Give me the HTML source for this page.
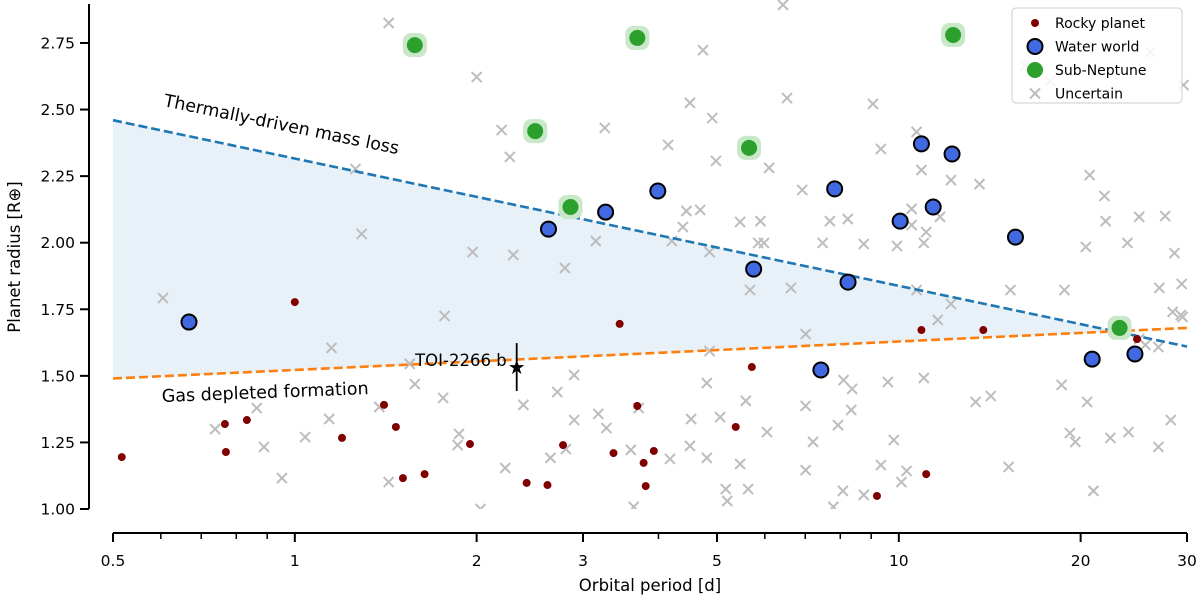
<!DOCTYPE html>
<html><head><meta charset="utf-8"><style>
body{margin:0;background:#fff;}
svg{display:block;font-family:"DejaVu Sans","Liberation Sans",sans-serif;}
</style></head><body>
<svg id="chart" width="1200" height="600" viewBox="0 0 1200 600">
<defs><clipPath id="clip"><rect x="89" y="0" width="1105" height="509"/></clipPath></defs>
<g id="plot" clip-path="url(#clip)"></g>
<g id="axes"></g>
<g id="legend"></g>
</svg>
<script>
const xTicks=[0.5,1,2,3,5,10,20,30];
const xMinor=[0.6,0.7,0.8,0.9,4,6,7,8,9];
const yTicks=[1.00,1.25,1.50,1.75,2.00,2.25,2.50,2.75];
const upperLine=[[0.5,2.46],[30,1.61]];
const lowerLine=[[0.5,1.49],[30,1.68]];
const rockyP=[0.517,0.769,0.766,0.833,1.0,1.197,1.405,1.47,1.51,1.64,1.95,2.42,2.62,2.78,3.37,3.45,3.69,3.78,3.81,3.93,5.71,5.37,9.2,11.1,10.9,13.8,24.8];
const rockyR=[1.195,1.214,1.319,1.334,1.777,1.267,1.391,1.308,1.116,1.131,1.244,1.098,1.09,1.24,1.21,1.695,1.387,1.173,1.086,1.218,1.533,1.308,1.049,1.131,1.672,1.672,1.638];
const waterP=[0.668,2.63,3.27,3.99,5.75,7.83,7.43,8.24,10.05,10.9,11.4,12.25,15.6,20.9,24.6];
const waterR=[1.702,2.051,2.115,2.194,1.901,2.202,1.522,1.852,2.081,2.371,2.134,2.333,2.021,1.563,1.582];
const subP=[1.58,2.5,3.69,5.65,2.86,12.3,23.2];
const subR=[2.742,2.419,2.769,2.356,2.134,2.78,1.68];
const uncP=[1.43,2.0,4.74,6.43,16.2,17.8,29.6,26.1,2.2,2.27,3.26,4.15,4.51,4.91,4.98,6.1,6.53,6.92,7.69,9.06,9.34,10.7,10.9,11.1,12.2,13.6,20.7,21.9,25.0,27.6,22.0,23.9,28.6,1.26,1.29,1.97,2.3,2.8,3.15,4.21,4.39,4.45,4.69,4.86,5.46,5.85,5.9,5.98,5.67,6.63,7.01,7.48,8.23,8.75,9.93,10.5,10.7,11.0,11.7,12.2,11.6,10.5,15.3,18.8,20.4,27.0,29.4,29.5,28.4,0.605,1.15,1.77,1.55,1.58,1.38,0.738,0.865,0.889,0.952,1.04,1.14,1.43,1.87,1.76,1.86,2.23,2.39,2.65,2.81,2.9,2.72,2.9,3.18,3.28,3.71,3.6,4.18,4.51,4.53,4.81,4.86,4.81,5.06,5.17,5.2,5.58,5.46,5.63,6.05,7.01,7.01,7.21,7.93,8.08,8.37,8.34,8.75,9.34,9.81,10.1,10.3,9.59,8.1,11.0,13.4,14.2,15.2,19.6,21.0,22.4,24.0,26.9,28.2,25.0,29.3,20.5,18.6,19.2,3.64,2.03,7.79,26.9,25.6];
const uncR=[2.825,2.622,2.723,2.893,2.664,2.607,2.592,2.716,2.423,2.322,2.431,2.367,2.525,2.468,2.307,2.281,2.543,2.198,2.081,2.521,2.352,2.416,2.273,2.04,2.235,2.22,2.254,2.175,2.097,2.1,2.081,1.999,1.961,2.277,2.033,1.965,1.954,1.905,2.006,2.006,2.059,2.119,2.123,1.965,2.078,1.999,2.081,1.999,1.822,1.83,1.657,1.999,2.089,1.995,1.988,2.127,1.822,1.999,2.097,1.77,1.71,2.066,1.822,1.822,1.984,1.83,1.845,1.721,1.74,1.792,1.605,1.725,1.545,1.469,1.383,1.3,1.379,1.233,1.116,1.27,1.338,1.101,1.282,1.417,1.24,1.154,1.391,1.192,1.225,1.503,1.439,1.334,1.357,1.304,1.379,1.222,1.188,1.237,1.338,1.473,1.593,1.192,1.345,1.075,1.03,1.406,1.169,1.075,1.289,1.387,1.146,1.252,1.315,1.068,1.451,1.372,1.053,1.165,1.259,1.101,1.143,1.477,1.484,1.492,1.402,1.424,1.158,1.252,1.068,1.267,1.289,1.233,1.334,1.638,1.728,1.402,1.466,1.285,1.008,1.0,1.008,1.608,1.616];
const toiP=[2.33];
const toiR=[1.533];
const toiErr=[0.09];

const NS='http://www.w3.org/2000/svg';
const X=v=>113+Math.log10(v/0.5)/Math.log10(60)*1074;
const Y=v=>509-(v-1)*266.3;
function mk(tag,attrs,parent,text){const e=document.createElementNS(NS,tag);for(const k in attrs)e.setAttribute(k,attrs[k]);if(text!==undefined)e.textContent=text;parent.appendChild(e);return e;}
const plot=document.getElementById('plot'),axes=document.getElementById('axes'),leg=document.getElementById('legend');

const slopeU=(upperLine[1][1]-upperLine[0][1])/(Math.log10(upperLine[1][0])-Math.log10(upperLine[0][0]));
const slopeL=(lowerLine[1][1]-lowerLine[0][1])/(Math.log10(lowerLine[1][0])-Math.log10(lowerLine[0][0]));
const lx0=Math.log10(upperLine[0][0]);
const lxi=lx0+(upperLine[0][1]-lowerLine[0][1])/(slopeL-slopeU);
const xi=Math.pow(10,lxi), yi=upperLine[0][1]+slopeU*(lxi-lx0);
let shade=mk('polygon',{points:`${X(upperLine[0][0])},${Y(upperLine[0][1])} ${X(xi)},${Y(yi)} ${X(lowerLine[0][0])},${Y(lowerLine[0][1])}`,fill:'#e8f0f8'},plot);



uncP.forEach((p,i)=>{const x=X(p),y=Y(uncR[i]);
 const g=mk('path',{d:`M${x-5},${y-5}L${x+5},${y+5}M${x-5},${y+5}L${x+5},${y-5}`,stroke:'#bdbdbd','stroke-width':2,fill:'none'},plot);
 
 });
[[upperLine,'#1f77b4','thermal-mass-loss-line'],[lowerLine,'#ff7f0e','gas-depleted-line']].forEach(([L,c,n])=>{
 const l=mk('line',{x1:X(L[0][0]),y1:Y(L[0][1]),x2:X(L[1][0]),y2:Y(L[1][1]),stroke:c,'stroke-width':2.6,'stroke-dasharray':'9,4'},plot);
 
 });
rockyP.forEach((p,i)=>{const c=mk('circle',{cx:X(p),cy:Y(rockyR[i]),r:4,fill:'#800000'},plot);
 
 });
waterP.forEach((p,i)=>{const c=mk('circle',{cx:X(p),cy:Y(waterR[i]),r:7.5,fill:'#4169e1',stroke:'#000','stroke-width':2},plot);
 
 });
subP.forEach((p,i)=>{const x=X(p),y=Y(subR[i]);
 const h=mk('rect',{x:x-12,y:y-12,width:24,height:24,rx:8,fill:'#c9e8c9'},plot);
 
 
 const c=mk('circle',{cx:x,cy:y,r:8,fill:'#2ca02c'},plot);
 
 });
toiP.forEach((p,i)=>{const x=X(p),y=Y(toiR[i]);
 const e=mk('line',{x1:x,y1:Y(toiR[i]+toiErr[i]),x2:x,y2:Y(toiR[i]-toiErr[i]),stroke:'#000','stroke-width':1.8},plot);
 
 
 const s=mk('text',{x:x,y:y+7,'text-anchor':'middle','font-size':20,fill:'#000'},plot,'★');
 
 
 const t=mk('text',{x:x-10,y:y-1,'text-anchor':'end','font-size':16.5,fill:'#000'},plot,'TOI-2266 b');
 
 });
let a1=mk('text',{x:0,y:0,'font-size':17.5,transform:'translate(163,106) rotate(11.6)'},plot,'Thermally-driven mass loss');


let a2=mk('text',{x:0,y:0,'font-size':17.5,transform:'translate(162,402) rotate(-2.2)'},plot,'Gas depleted formation');



let ys=mk('line',{x1:89,y1:4,x2:89,y2:509,stroke:'#000','stroke-width':2},axes);


let xs=mk('line',{x1:113,y1:533,x2:1187,y2:533,stroke:'#000','stroke-width':2},axes);


yTicks.forEach(v=>{const y=Y(v);
 mk('line',{x1:80,y1:y,x2:89,y2:y,stroke:'#000','stroke-width':2},axes);
 const t=mk('text',{x:75,y:y+5.5,'text-anchor':'end','font-size':15.5},axes,v.toFixed(2));
 
 });
xTicks.forEach(v=>{const x=X(v);
 mk('line',{x1:x,y1:533,x2:x,y2:542,stroke:'#000','stroke-width':2},axes);
 const t=mk('text',{x:x,y:566,'text-anchor':'middle','font-size':15.5},axes,String(v));
 
 });
xMinor.forEach(v=>{const x=X(v);mk('line',{x1:x,y1:533,x2:x,y2:539,stroke:'#000','stroke-width':1.5},axes);});
let xl=mk('text',{x:650,y:591,'text-anchor':'middle','font-size':16.5},axes,'Orbital period [d]');


let yl=mk('text',{x:0,y:0,'text-anchor':'middle','font-size':16.5,transform:'translate(20,257) rotate(-90)'},axes,'Planet radius [R⊕]');



let lb=mk('rect',{x:1012,y:8,width:170,height:95,rx:4,fill:'#fff','fill-opacity':0.85,stroke:'#ccc'},leg);


const legNames=['Rocky planet','Water world','Sub-Neptune','Uncertain'];
legNames.forEach((n,i)=>{const y=23+i*23.5,x=1035;
 if(i==0)mk('circle',{cx:x,cy:y,r:4,fill:'#800000'},leg);
 if(i==1)mk('circle',{cx:x,cy:y,r:7.5,fill:'#4169e1',stroke:'#000','stroke-width':2},leg);
 if(i==2)mk('circle',{cx:x,cy:y,r:8,fill:'#2ca02c'},leg);
 if(i==3)mk('path',{d:`M${x-5},${y-5}L${x+5},${y+5}M${x-5},${y+5}L${x+5},${y-5}`,stroke:'#bdbdbd','stroke-width':2},leg);
 const t=mk('text',{x:1055,y:y+5,'font-size':14},leg,n);
 
 });
</script>
</body></html>
